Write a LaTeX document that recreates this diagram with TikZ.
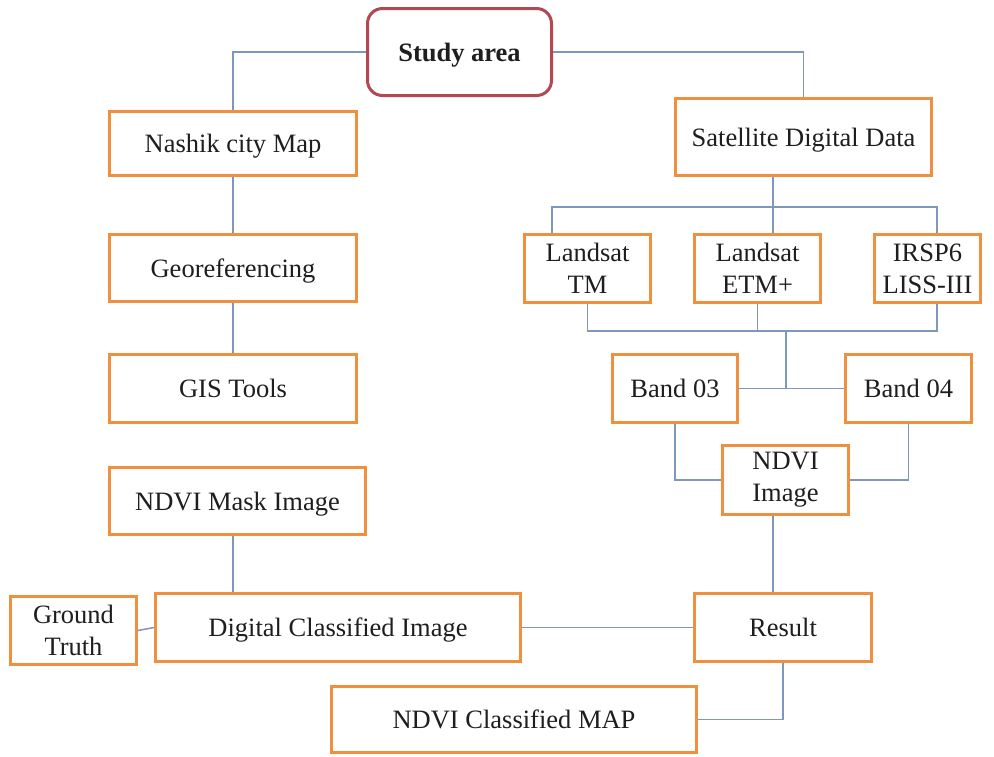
\documentclass[tikz,border=0pt]{standalone}
\usepackage{fontspec}
\setmainfont{Liberation Serif}
\definecolor{boxorange}{RGB}{240,143,62}
\definecolor{linkblue}{RGB}{125,152,188}
\definecolor{studyred}{RGB}{178,72,82}
\definecolor{txt}{RGB}{30,30,30}
\begin{document}
\begin{tikzpicture}[x=1pt,y=-1pt,
  box/.style={draw=boxorange, line width=3pt, fill=white, inner sep=0pt,
    align=center, text=txt, font=\fontsize{26.5}{32}\selectfont},
  oneline/.style={text height=24pt, text depth=6pt},
  studybox/.style={draw=studyred, line width=3pt, rounded corners=15pt, fill=white,
    inner sep=0pt, align=center, text=txt, font=\fontsize{26.5}{32}\selectfont\bfseries,
    text height=24pt, text depth=6pt},
  link/.style={draw=linkblue, line width=1.5pt}]
\fill[white] (0,0) rectangle (994,756);
\useasboundingbox (0,0) rectangle (994,756);

\node[studybox, minimum width=184pt, minimum height=87pt] (study) at (459.5,52) {Study area};
\node[box, oneline, minimum width=247pt, minimum height=64pt] (nashik) at (233,143.5) {Nashik city Map};
\node[box, oneline, minimum width=256pt, minimum height=77pt] (sat) at (803.5,137) {Satellite Digital Data};
\node[box, oneline, minimum width=247pt, minimum height=67pt] (georef) at (233,268) {Georeferencing};
\node[box, oneline, minimum width=247pt, minimum height=68pt] (gis) at (233,388.5) {GIS Tools};
\node[box, oneline, minimum width=256pt, minimum height=67pt] (mask) at (237.5,501) {NDVI Mask Image};
\node[box, minimum width=126pt, minimum height=68pt] (tm) at (587.5,268.5) {Landsat\\TM};
\node[box, minimum width=126pt, minimum height=68pt] (etm) at (757.5,268.5) {Landsat\\ETM+};
\node[box, minimum width=106pt, minimum height=68pt] (irsp) at (927.5,268.5) {IRSP6\\LISS-III};
\node[box, oneline, minimum width=125pt, minimum height=68pt] (b03) at (675,388.5) {Band 03};
\node[box, oneline, minimum width=126pt, minimum height=68pt] (b04) at (908.5,388.5) {Band 04};
\node[box, minimum width=126pt, minimum height=69pt] (ndvi) at (785.5,480) {NDVI\\Image};
\node[box, minimum width=126pt, minimum height=68pt] (gt) at (73.5,630.5) {Ground\\Truth};
\node[box, oneline, minimum width=365pt, minimum height=68pt] (dci) at (338,627.5) {Digital Classified Image};
\node[box, oneline, minimum width=177pt, minimum height=68pt] (result) at (783,627.5) {Result};
\node[box, oneline, minimum width=365pt, minimum height=66pt] (map) at (514,719.5) {NDVI Classified MAP};

\coordinate (tl) at (552,207);
\coordinate (tc) at (773,207);
\coordinate (tr) at (937,207);
\coordinate (bl) at (587.5,331);
\coordinate (bc) at (786,331);
\coordinate (br) at (937,331);
\coordinate (nr) at (773,0);

\draw[link] (study.west) -| (nashik.north);
\draw[link] (study.east) -| (sat.north);
\draw[link] (nashik.south) -- (georef.north);
\draw[link] (georef.south) -- (gis.north);
\draw[link] (mask.south -| gis.south) -- (dci.north -| gis.south);
\draw[link] (gt.east) -- (dci.west);
\draw[link] (dci.east) -- (result.west);
\draw[link] (sat.south -| tc) -- (tc) -- (etm.north -| tc);
\draw[link] (tm.north -| tl) -- (tl) -- (tr) -- (irsp.north -| tr);
\draw[link] (tm.south) -- (bl) -- (br) -- (irsp.south -| br);
\draw[link] (etm.south) -- (etm.south |- bl);
\draw[link] (bc) -- (bc |- b03.east);
\draw[link] (b03.east) -- (b04.west);
\draw[link] (b03.south) |- (ndvi.west);
\draw[link] (b04.south) |- (ndvi.east);
\draw[link] (ndvi.south -| nr) -- (result.north -| nr);
\draw[link] (result.south) |- (map.east);
\end{tikzpicture}
\end{document}
